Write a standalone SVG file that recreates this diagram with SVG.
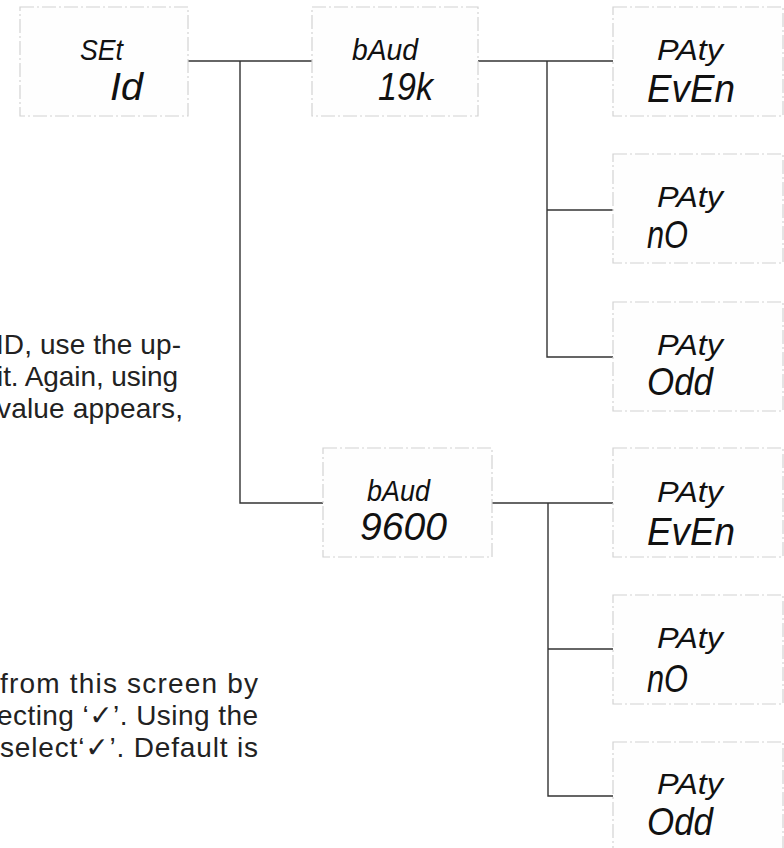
<svg xmlns="http://www.w3.org/2000/svg" width="784" height="848" viewBox="0 0 784 848">
<style>
.box{fill:#fefefe;stroke:#d2d2d2;stroke-width:1.2;stroke-dasharray:14 3 2 3}
.con{fill:none;stroke:#333;stroke-width:1.4}
.sm{font-family:"Liberation Sans","DejaVu Sans",sans-serif;font-style:italic;font-size:29px;fill:#111}
.lg{font-family:"Liberation Sans","DejaVu Sans",sans-serif;font-style:italic;font-size:39px;fill:#111}
.para{font-family:"Liberation Sans","DejaVu Sans",sans-serif;font-size:28px;fill:#222}
</style>
<rect width="784" height="848" fill="#fff"/>
<g id="connectors">
<path class="con" d="M188,61 H312"/>
<path class="con" d="M240,61 V503 H323"/>
<path class="con" d="M478,61 H613"/>
<path class="con" d="M547,61 V357 H613"/>
<path class="con" d="M547,210 H613"/>
<path class="con" d="M492,503 H613"/>
<path class="con" d="M548,503 V796 H613"/>
<path class="con" d="M548,649 H613"/>
</g>
<g id="set-id">
<rect class="box" x="20" y="7" width="168" height="109"/>
<text class="sm" x="80" y="60" textLength="43" lengthAdjust="spacingAndGlyphs">SEt</text>
<text class="lg" x="110" y="100" textLength="33" lengthAdjust="spacingAndGlyphs">Id</text>
</g>
<g id="baud-19k">
<rect class="box" x="312" y="7" width="166" height="109"/>
<text class="sm" x="352" y="60" textLength="66" lengthAdjust="spacingAndGlyphs">bAud</text>
<text class="lg" x="378" y="100" textLength="55" lengthAdjust="spacingAndGlyphs">19k</text>
</g>
<g id="baud-9600">
<rect class="box" x="323" y="448" width="169" height="109"/>
<text class="sm" x="367" y="501" textLength="63" lengthAdjust="spacingAndGlyphs">bAud</text>
<text class="lg" x="360" y="540" textLength="87" lengthAdjust="spacingAndGlyphs">9600</text>
</g>
<g id="paty-even-1">
<rect class="box" x="613" y="7" width="170" height="109"/>
<text class="sm" x="657" y="60" textLength="66" lengthAdjust="spacingAndGlyphs">PAty</text>
<text class="lg" x="647" y="102" textLength="88" lengthAdjust="spacingAndGlyphs">EvEn</text>
</g>
<g id="paty-no-1">
<rect class="box" x="613" y="154" width="170" height="109"/>
<text class="sm" x="657" y="207" textLength="66" lengthAdjust="spacingAndGlyphs">PAty</text>
<text class="lg" x="647" y="248" textLength="41" lengthAdjust="spacingAndGlyphs">nO</text>
</g>
<g id="paty-odd-1">
<rect class="box" x="613" y="302" width="170" height="109"/>
<text class="sm" x="657" y="355" textLength="66" lengthAdjust="spacingAndGlyphs">PAty</text>
<text class="lg" x="647" y="395" textLength="66" lengthAdjust="spacingAndGlyphs">Odd</text>
</g>
<g id="paty-even-2">
<rect class="box" x="613" y="448" width="170" height="109"/>
<text class="sm" x="657" y="502" textLength="66" lengthAdjust="spacingAndGlyphs">PAty</text>
<text class="lg" x="647" y="545" textLength="88" lengthAdjust="spacingAndGlyphs">EvEn</text>
</g>
<g id="paty-no-2">
<rect class="box" x="613" y="595" width="170" height="109"/>
<text class="sm" x="657" y="648" textLength="66" lengthAdjust="spacingAndGlyphs">PAty</text>
<text class="lg" x="647" y="692" textLength="41" lengthAdjust="spacingAndGlyphs">nO</text>
</g>
<g id="paty-odd-2">
<rect class="box" x="613" y="742" width="170" height="109"/>
<text class="sm" x="657" y="794" textLength="66" lengthAdjust="spacingAndGlyphs">PAty</text>
<text class="lg" x="647" y="835" textLength="66" lengthAdjust="spacingAndGlyphs">Odd</text>
</g>
<g id="text-upper">
<text class="para" x="-4" y="354" textLength="185">ID, use the up-</text>
<text class="para" x="-3" y="386" textLength="181">it. Again, using</text>
<text class="para" x="-3" y="418" textLength="186">value appears,</text>
</g>
<g id="text-lower">
<text class="para" x="0" y="693" textLength="258">from this screen by</text>
<text class="para" x="-3" y="725" textLength="261">ecting ‘✓’. Using the</text>
<text class="para" x="0" y="757" textLength="258">select‘✓’. Default is</text>
</g>
</svg>
